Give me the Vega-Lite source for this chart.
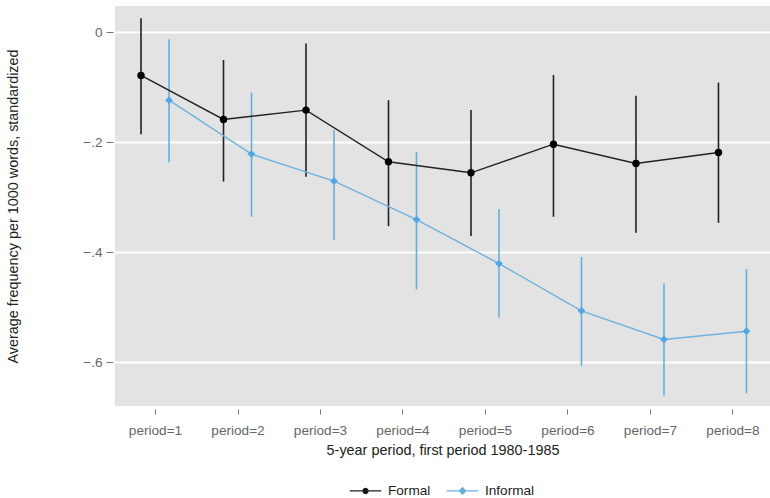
{
  "$schema": "https://vega.github.io/schema/vega-lite/v6.json",
  "width": 655,
  "height": 400,
  "autosize": "none",
  "padding": {"left": 115, "top": 6, "right": 0, "bottom": 92},
  "background": "white",
  "config": {
    "view": {"fill": "#e3e3e3", "stroke": null},
    "font": "Liberation Sans",
    "axis": {"labelFont": "Liberation Sans", "titleFont": "Liberation Sans", "titleFontWeight": "normal"}
  },
  "data": {
    "values": [
      {"period": 1, "series": "Formal", "est": -0.079, "lo": -0.186, "hi": 0.025},
      {"period": 2, "series": "Formal", "est": -0.159, "lo": -0.272, "hi": -0.051},
      {"period": 3, "series": "Formal", "est": -0.142, "lo": -0.263, "hi": -0.021},
      {"period": 4, "series": "Formal", "est": -0.236, "lo": -0.353, "hi": -0.124},
      {"period": 5, "series": "Formal", "est": -0.256, "lo": -0.371, "hi": -0.142},
      {"period": 6, "series": "Formal", "est": -0.204, "lo": -0.336, "hi": -0.078},
      {"period": 7, "series": "Formal", "est": -0.239, "lo": -0.365, "hi": -0.116},
      {"period": 8, "series": "Formal", "est": -0.219, "lo": -0.347, "hi": -0.092},
      {"period": 1, "series": "Informal", "est": -0.124, "lo": -0.237, "hi": -0.013},
      {"period": 2, "series": "Informal", "est": -0.222, "lo": -0.336, "hi": -0.110},
      {"period": 3, "series": "Informal", "est": -0.271, "lo": -0.378, "hi": -0.178},
      {"period": 4, "series": "Informal", "est": -0.341, "lo": -0.468, "hi": -0.218},
      {"period": 5, "series": "Informal", "est": -0.421, "lo": -0.519, "hi": -0.322},
      {"period": 6, "series": "Informal", "est": -0.507, "lo": -0.607, "hi": -0.409},
      {"period": 7, "series": "Informal", "est": -0.559, "lo": -0.661, "hi": -0.457},
      {"period": 8, "series": "Informal", "est": -0.544, "lo": -0.657, "hi": -0.431}
    ]
  },
  "encoding": {
    "x": {
      "field": "period", "type": "quantitative",
      "scale": {"domain": [0.515, 8.455], "nice": false, "zero": false},
      "axis": {
        "values": [1, 2, 3, 4, 5, 6, 7, 8],
        "labelExpr": "'period=' + datum.value",
        "title": "5-year period, first period 1980-1985",
        "grid": false, "domain": false,
        "tickColor": "#777", "tickSize": 5, "offset": 3,
        "labelFontSize": 13.6, "labelColor": "#666", "labelPadding": 9,
        "titleFontSize": 14.4, "titleColor": "#222", "titlePadding": 7
      }
    },
    "y": {
      "type": "quantitative",
      "scale": {"domain": [-0.68, 0.0473], "nice": false, "zero": false},
      "axis": {
        "values": [0, -0.2, -0.4, -0.6],
        "labelExpr": "datum.value == 0 ? '0' : replace(format(datum.value, '.1f'), '0.', '.')",
        "title": "Average frequency per 1000 words, standardized",
        "grid": true, "gridColor": "white", "gridWidth": 2,
        "domain": false, "tickColor": "#777", "tickSize": 7, "offset": 2,
        "labelFontSize": 13.6, "labelColor": "#666", "labelPadding": 4,
        "titleFontSize": 14.4, "titleColor": "#222", "titlePadding": 62
      }
    }
  },
  "layer": [
    {
      "transform": [{"filter": "datum.series == 'Formal'"}],
      "mark": {"type": "rule", "xOffset": -14, "strokeWidth": 1.6},
      "encoding": {"y": {"field": "lo"}, "y2": {"field": "hi"}, "color": {"value": "#222"}}
    },
    {
      "transform": [{"filter": "datum.series == 'Informal'"}],
      "mark": {"type": "rule", "xOffset": 14, "strokeWidth": 1.6},
      "encoding": {"y": {"field": "lo"}, "y2": {"field": "hi"}, "color": {"value": "#6aaed8"}}
    },
    {
      "transform": [{"filter": "datum.series == 'Formal'"}],
      "mark": {"type": "line", "xOffset": -14, "strokeWidth": 1.4},
      "encoding": {
        "y": {"field": "est"},
        "color": {
          "field": "series", "type": "nominal",
          "scale": {"domain": ["Formal", "Informal"], "range": ["#222222", "#6fb2de"]},
          "legend": {
            "title": null, "orient": "none", "direction": "horizontal",
            "legendX": 234, "legendY": 468,
            "labelFontSize": 13.6, "labelColor": "#222", "labelOffset": 6,
            "columnPadding": 13, "symbolSize": 1000, "symbolStrokeWidth": 1.4,
            "encode": {
              "symbols": {
                "update": {
                  "shape": {"signal": "datum.value === 'Formal' ? 'M-1,0L1,0M0.16,0A0.16,0.16,0,1,1,-0.16,0A0.16,0.16,0,1,1,0.16,0Z' : 'M-1,0L1,0M0,-0.2L0.2,0L0,0.2L-0.2,0Z'"},
                  "stroke": {"signal": "datum.value === 'Formal' ? '#000000' : '#5aacdf'"},
                  "fill": {"signal": "datum.value === 'Formal' ? '#000000' : '#4fa8e2'"},
                  "strokeWidth": {"value": 1.3},
                  "opacity": {"value": 1}
                }
              }
            }
          }
        }
      }
    },
    {
      "transform": [{"filter": "datum.series == 'Informal'"}],
      "mark": {"type": "line", "xOffset": 14, "strokeWidth": 1.4},
      "encoding": {"y": {"field": "est"}, "color": {"field": "series", "type": "nominal"}}
    },
    {
      "transform": [{"filter": "datum.series == 'Formal'"}],
      "mark": {"type": "point", "filled": true, "opacity": 1, "shape": "circle", "xOffset": -14, "size": 55},
      "encoding": {"y": {"field": "est"}, "color": {"value": "#000000"}}
    },
    {
      "transform": [{"filter": "datum.series == 'Informal'"}],
      "mark": {"type": "point", "filled": true, "opacity": 1, "shape": "diamond", "xOffset": 14, "size": 60},
      "encoding": {"y": {"field": "est"}, "color": {"value": "#4fa8e2"}}
    }
  ]
}
